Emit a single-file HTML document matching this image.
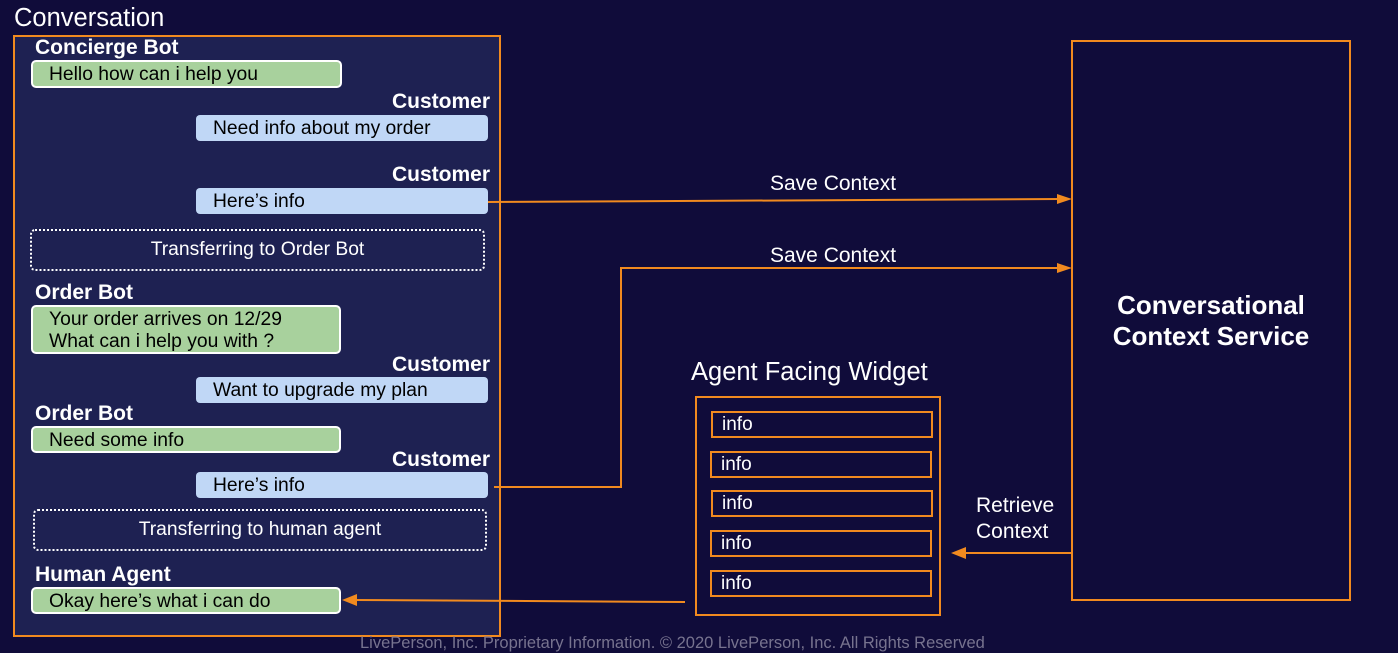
<!DOCTYPE html>
<html><head><style>
body{margin:0;width:1398px;height:642px;background:#100c3a;position:relative;overflow:hidden;font-family:"Liberation Sans",sans-serif;color:#fff}
.a{position:absolute;white-space:nowrap}
.lbl{position:absolute;font-weight:bold;font-size:21px;line-height:20px}
.g{position:absolute;background:#a8d19d;border:2px solid #fff;border-radius:5px;color:#000;font-size:19.3px;box-sizing:border-box;padding-left:16px;white-space:nowrap}
.b{position:absolute;background:#c0d7f6;border-radius:4px;color:#000;font-size:19.3px;box-sizing:border-box;padding-left:17px;width:292px;height:26px;line-height:28px;left:196px;white-space:nowrap}
.d{position:absolute;border:2px dotted #fff;border-radius:5px;box-sizing:border-box;text-align:center;font-size:19.3px;line-height:38px}
.i{position:absolute;border:2px solid #f18a1f;box-sizing:border-box;width:222px;height:27px;font-size:19px;line-height:24px;padding-left:9px}
</style></head><body>
<div class="a" style="left:14px;top:4px;font-size:25.5px">Conversation</div>
<div class="a" style="left:13px;top:35px;width:484px;height:598px;background:#1e2152;border:2px solid #f18a1f"></div>
<div class="lbl" style="left:35px;top:38px">Concierge Bot</div>
<div class="g" style="left:31px;top:60px;width:311px;height:28px;line-height:26px">Hello how can i help you</div>
<div class="lbl" style="left:290px;width:200px;text-align:right;top:92px">Customer</div>
<div class="b" style="top:115px">Need info about my order</div>
<div class="lbl" style="left:290px;width:200px;text-align:right;top:165px">Customer</div>
<div class="b" style="top:188px">Here’s info</div>
<div class="d" style="left:30px;top:229px;width:455px;height:42px">Transferring to Order Bot</div>
<div class="lbl" style="left:35px;top:283px">Order Bot</div>
<div class="g" style="left:31px;top:305px;width:310px;height:49px;line-height:22px;padding-top:2px">Your order arrives on 12/29<br>What can i help you with ?</div>
<div class="lbl" style="left:290px;width:200px;text-align:right;top:355px">Customer</div>
<div class="b" style="top:377px">Want to upgrade my plan</div>
<div class="lbl" style="left:35px;top:404px">Order Bot</div>
<div class="g" style="left:31px;top:426px;width:310px;height:27px;line-height:25px">Need some info</div>
<div class="lbl" style="left:290px;width:200px;text-align:right;top:450px">Customer</div>
<div class="b" style="top:472px">Here’s info</div>
<div class="d" style="left:33px;top:509px;width:454px;height:42px">Transferring to human agent</div>
<div class="lbl" style="left:35px;top:565px">Human Agent</div>
<div class="g" style="left:31px;top:587px;width:310px;height:27px;line-height:25px">Okay here’s what i can do</div>

<div class="a" style="left:1071px;top:40px;width:276px;height:557px;border:2px solid #f18a1f"></div>
<div class="a" style="left:1071px;top:290px;width:280px;text-align:center;font-weight:bold;font-size:26px;line-height:31px">Conversational<br>Context Service</div>

<div class="a" style="left:770px;top:172px;font-size:21px">Save Context</div>
<div class="a" style="left:770px;top:244px;font-size:21px">Save Context</div>
<div class="a" style="left:691px;top:358px;font-size:25.5px">Agent Facing Widget</div>
<div class="a" style="left:695px;top:396px;width:246px;height:220px;border:2px solid #f18a1f;box-sizing:border-box"></div>
<div class="i" style="left:711px;top:411px">info</div>
<div class="i" style="left:710px;top:451px">info</div>
<div class="i" style="left:711px;top:490px">info</div>
<div class="i" style="left:710px;top:530px">info</div>
<div class="i" style="left:710px;top:570px">info</div>
<div class="a" style="left:976px;top:493px;font-size:21px;line-height:26px">Retrieve<br>Context</div>

<svg class="a" style="left:0;top:0" width="1398" height="642">
<g stroke="#f18a1f" stroke-width="2" fill="none">
<line x1="488" y1="202" x2="1060" y2="199"/>
<polyline points="494,487 621,487 621,268 1060,268"/>
<line x1="1072" y1="553" x2="962" y2="553"/>
<line x1="685" y1="602" x2="354" y2="600"/>
</g>
<g fill="#f18a1f">
<polygon points="1072,199 1057,194 1057,204"/>
<polygon points="1072,268 1057,263 1057,273"/>
<polygon points="951,553 966,547 966,559"/>
<polygon points="342,600 357,594 357,606"/>
</g>
</svg>
<div class="a" style="left:360px;top:634px;font-size:16.5px;color:#77738f">LivePerson, Inc. Proprietary Information. © 2020 LivePerson, Inc. All Rights Reserved</div>
</body></html>
